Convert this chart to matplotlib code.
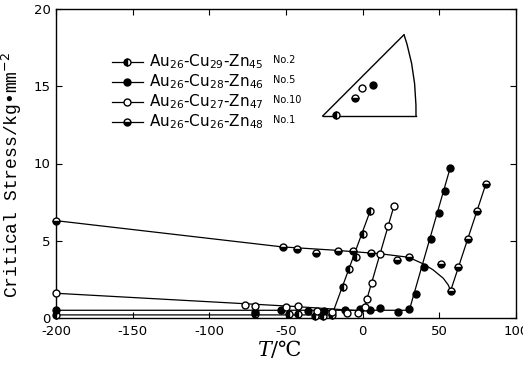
import matplotlib
matplotlib.use('Agg')
import matplotlib.pyplot as plt
from matplotlib.path import Path
from matplotlib.patches import PathPatch

plt.rcParams['font.family'] = ['DejaVu Sans']
plt.rcParams['mathtext.fontset'] = 'dejavusans'
plt.rcParams['axes.unicode_minus'] = False

# ---------------- data ----------------
# Au26-Cu29-Zn45 No.2 (half-filled markers)
T_no2 = [-200, -70, -48, -42, -31, -26, -20, -13.0, -9.1, -4.4, 0.4, 4.8]
S_no2 = [0.2, 0.25, 0.24, 0.24, 0.13, 0.13, 0.2, 2.03, 3.19, 3.93, 5.46, 6.9]
T_no2_line = [-200, -20, 4.8]
S_no2_line = [0.2, 0.2, 6.9]

# Au26-Cu28-Zn46 No.5 (filled markers)
T_no5 = [-200, -70, -53, -35.5, -25, -11.5, -2, 4.8, 11.3, 23.3, 30.4,
         34.8, 40.0, 44.6, 49.8, 53.5, 57]
S_no5 = [0.5, 0.41, 0.52, 0.47, 0.45, 0.52, 0.6, 0.52, 0.63, 0.41, 0.58,
         1.53, 3.32, 5.09, 6.82, 8.24, 9.69]
T_no5_line = [-200, 30.4, 57]
S_no5_line = [0.5, 0.5, 9.69]

# Au26-Cu27-Zn47 No.10 (open markers)
T_no10 = [-200, -77, -70, -50, -42, -30, -20, -10, -3, 1.5, 3.0, 6.3,
          11.3, 16.7, 20.4]
S_no10 = [1.6, 0.84, 0.8, 0.73, 0.8, 0.45, 0.4, 0.35, 0.3, 0.73, 1.23, 2.24,
          4.16, 5.95, 7.25]
T_no10_line = [-200, -45, 0.5, 20.4]
S_no10_line = [1.6, 0.75, 0.45, 7.25]

# Au26-Cu26-Zn48 No.1 (half-filled markers)
T_no1 = [-200, -52.2, -42.7, -30.5, -16.3, -6.5, 5.2, 22.6, 30, 50.9, 57.4,
         62.2, 68.7, 74.8, 80.4]
S_no1 = [6.3, 4.6, 4.44, 4.23, 4.31, 4.34, 4.23, 3.73, 3.93, 3.52, 1.77,
         3.28, 5.09, 6.93, 8.69]
T_no1_line = [-200, -52.2, -20, 11.3, 30, 40, 46, 52.6, 55.8, 57.4, 80.4]
S_no1_line = [6.3, 4.6, 4.4, 4.16, 3.93, 3.48, 3.11, 2.57, 2.14, 1.77, 8.69]

legend_labels = ['Au$_{26}$-Cu$_{29}$-Zn$_{45}$', 'Au$_{26}$-Cu$_{28}$-Zn$_{46}$',
                 'Au$_{26}$-Cu$_{27}$-Zn$_{47}$', 'Au$_{26}$-Cu$_{26}$-Zn$_{48}$']
legend_nos = ['No.2', 'No.5', 'No.10', 'No.1']

x_ticks = [-200, -150, -100, -50, 0, 50, 100]
y_ticks = [0, 5, 10, 15, 20]

# stereographic triangle inset (pixel-like inset units)
tri_x = [404, 322.7, 416]
tri_y = [34.7, 116, 116]
tri_arc_ctrl = (416.6, 71.3)
pt_x = [336, 355, 362.3, 373.3]
pt_y = [115.3, 97.7, 87.7, 85.3]
pt_style = ['no2', 'no1', 'no10', 'no5']

# ---------------- styles ----------------
styles = {
    'no2': dict(marker='o', fillstyle='left', markerfacecolor='k', markerfacecoloralt='white'),
    'no5': dict(marker='o', fillstyle='full', markerfacecolor='k'),
    'no10': dict(marker='o', fillstyle='full', markerfacecolor='white'),
    'no1': dict(marker='o', fillstyle='bottom', markerfacecolor='k', markerfacecoloralt='white'),
}
MS = 5.0

W, H = 523, 365
fig = plt.figure(figsize=(W / 100, H / 100), dpi=100)
ax = fig.add_axes([56 / W, 47 / H, 460 / W, 309 / H])
ax.set_xlim(-200, 100)
ax.set_ylim(0, 20)

series = [
    ('no2', T_no2, S_no2, T_no2_line, S_no2_line),
    ('no5', T_no5, S_no5, T_no5_line, S_no5_line),
    ('no10', T_no10, S_no10, T_no10_line, S_no10_line),
    ('no1', T_no1, S_no1, T_no1_line, S_no1_line),
]
for key, T, S, TL, SL in series:
    ax.plot(TL, SL, color='k', lw=0.9, zorder=2, clip_on=False)
    ax.plot(T, S, ls='none', ms=MS, mec='k', mew=1.0, zorder=3, clip_on=False, **styles[key])

ax.set_xticks(x_ticks)
ax.set_yticks(y_ticks)
ax.tick_params(direction='in', top=True, right=True, length=4, width=0.8,
               labelsize=9.5)
ax.tick_params(axis='x', pad=5)
ax.tick_params(axis='y', pad=4)
for sp in ax.spines.values():
    sp.set_linewidth(1.0)

ax.set_ylabel('Critical Stress/kg\u2022mm$^{-2}$', fontfamily='Liberation Mono', fontsize=13)
ax.yaxis.set_label_coords((24 - 56) / 460, (318 - 175) / 309)
ax.set_xlabel('$T$/\u2103', fontfamily='DejaVu Serif', fontsize=15,
              math_fontfamily='dejavuserif')
ax.xaxis.set_label_coords((280 - 56) / 460, (318 - 338) / 309)

# legend (manual)
rows_y = [61.7, 81.7, 101.7, 121.7]
for key, lab, no, yp in zip(['no2', 'no5', 'no10', 'no1'], legend_labels, legend_nos, rows_y):
    ya = (318 - yp) / 309
    ax.plot([(112 - 56) / 460, (143 - 56) / 460], [ya, ya], color='k', lw=0.9,
            transform=ax.transAxes)
    ax.plot([(127 - 56) / 460], [ya], transform=ax.transAxes, ls='none', ms=MS,
            mec='k', mew=1.0, **styles[key])
    ax.text((149 - 56) / 460, ya, lab, transform=ax.transAxes, fontsize=11, va='center')
    ax.text((273 - 56) / 460, ya + 0.005, no, transform=ax.transAxes, fontsize=7, va='center')

# inset triangle
x0, x1, y0, y1 = 310, 430, 25, 125
iax = fig.add_axes([x0 / W, 1 - y1 / H, (x1 - x0) / W, (y1 - y0) / H])
iax.set_xlim(x0, x1)
iax.set_ylim(y1, y0)
iax.axis('off')
iax.plot([tri_x[1], tri_x[0]], [tri_y[1], tri_y[0]], color='k', lw=1.0)
iax.plot([tri_x[1], tri_x[2]], [tri_y[1], tri_y[2]], color='k', lw=1.0)
path = Path([(tri_x[0], tri_y[0]), tri_arc_ctrl, (tri_x[2], tri_y[2])],
            [Path.MOVETO, Path.CURVE3, Path.CURVE3])
iax.add_patch(PathPatch(path, fill=False, lw=1.0, color='k'))
for px, py, st in zip(pt_x, pt_y, pt_style):
    iax.plot([px], [py], ls='none', ms=MS, mec='k', mew=1.0, **styles[st])

fig.savefig('out.png', dpi=100)
